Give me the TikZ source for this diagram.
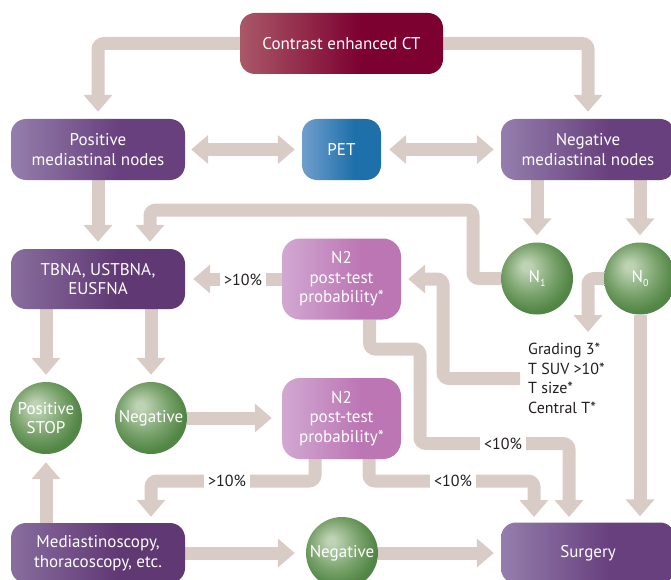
\documentclass[tikz,border=0pt]{standalone}
\usepackage{fontspec}
\setmainfont{PT Sans}
\usetikzlibrary{arrows.meta}
\definecolor{bandc}{RGB}{217,204,199}
\definecolor{labc}{RGB}{35,31,32}
\definecolor{ctl}{RGB}{170,88,104}
\definecolor{ctd}{RGB}{124,0,48}
\definecolor{petl}{RGB}{112,158,204}
\definecolor{petd}{RGB}{30,112,170}
\definecolor{pl}{RGB}{148,126,172}
\definecolor{pd}{RGB}{104,64,126}
\definecolor{tl}{RGB}{136,110,158}
\definecolor{td}{RGB}{96,56,116}
\definecolor{nl}{RGB}{210,168,210}
\definecolor{nd}{RGB}{188,118,180}
\definecolor{gl}{RGB}{190,210,180}
\definecolor{gm}{RGB}{118,160,104}
\definecolor{gd}{RGB}{82,134,70}
\pgfdeclarehorizontalshading{ctsh}{100bp}{color(0bp)=(ctl); color(25bp)=(ctl); color(55bp)=(ctd); color(100bp)=(ctd)}
\pgfdeclarehorizontalshading{petsh}{100bp}{color(0bp)=(petl); color(25bp)=(petl); color(58bp)=(petd); color(100bp)=(petd)}
\pgfdeclarehorizontalshading{psh}{100bp}{color(0bp)=(pl); color(25bp)=(pl); color(56bp)=(pd); color(100bp)=(pd)}
\pgfdeclarehorizontalshading{tsh}{100bp}{color(0bp)=(tl); color(25bp)=(tl); color(56bp)=(td); color(100bp)=(td)}
\pgfdeclarehorizontalshading{nsh}{100bp}{color(0bp)=(nl); color(25bp)=(nl); color(58bp)=(nd); color(100bp)=(nd)}
\pgfdeclareradialshading{greenball}{\pgfpoint{-8bp}{9bp}}{color(0bp)=(gl); color(3bp)=(gl); color(18bp)=(gm); color(27bp)=(gd); color(50bp)=(gd)}
\pgfdeclarelayer{bg}
\pgfsetlayers{bg,main}
\newcommand\sbs[1]{\raisebox{-3.5pt}{\fontsize{10}{10}\selectfont #1}}
\tikzset{
  boxbase/.style={rounded corners=15pt, text=white, align=center, inner sep=0pt, shade,
    font=\fontsize{17}{19.5}\selectfont},
  ctbox/.style={boxbase, shading=ctsh, minimum width=203pt, minimum height=61pt},
  petbox/.style={boxbase, shading=petsh, minimum width=79pt, minimum height=61pt},
  pbox/.style={boxbase, shading=psh, minimum width=174pt, minimum height=61pt},
  tbox/.style={boxbase, shading=tsh, minimum width=174pt, minimum height=60pt},
  n2box/.style={boxbase, rounded corners=18pt, shading=nsh, minimum width=119pt, minimum height=81pt},
  ball/.style={circle, shade, shading=greenball, minimum size=72pt, inner sep=0pt, text=white,
    align=center, font=\fontsize{17}{19.5}\selectfont},
  band/.style={draw=bandc, line width=13pt, rounded corners=6pt},
  arr/.style={band, -{Triangle[width=28pt,length=17pt]}},
  darr/.style={band, {Triangle[width=28pt,length=17pt]}-{Triangle[width=28pt,length=17pt]}},
  lab/.style={fill=white, text=labc, inner xsep=4pt, inner ysep=2pt, font=\fontsize{16}{19}\selectfont},
  txt/.style={text=labc, align=left, inner sep=0pt, font=\fontsize{16}{19.5}\selectfont},
}
\begin{document}
\begin{tikzpicture}[x=1pt,y=-1pt]
\useasboundingbox (0,0) rectangle (671,580);
\clip (0,0) rectangle (671,580);
% nodes
\node[ctbox] (ct) at (341.5,43.5) {Contrast enhanced CT};
\node[pbox] (pos) at (98,149.5) {Positive\\mediastinal nodes};
\node[petbox] (pet) at (341.5,149.5) {PET};
\node[pbox] (neg) at (588,149.5) {Negative\\mediastinal nodes};
\node[tbox] (tbna) at (98,279) {TBNA, USTBNA,\\EUSFNA};
\node[n2box] (n2a) at (341.5,279) {N2\\post-test\\probability*};
\node[ball] (n1) at (537,278.5) {N\sbs{1}};
\node[ball] (n0) at (640,278.5) {N\sbs{0}};
\node[txt, anchor=north west] (grad) at (528,343) {Grading 3*\\T SUV >10*\\T size*\\Central T*};
\node[ball] (stop) at (46,418) {Positive\\STOP};
\node[ball] (negl) at (151,418) {Negative};
\node[n2box] (n2b) at (341.5,418.5) {N2\\post-test\\probability*};
\node[tbox] (med) at (98,553) {Mediastinoscopy,\\thoracoscopy, etc.};
\node[ball] (negb) at (342,553) {Negative};
\node[pbox] (surg) at (588,553) {Surgery};
\coordinate (gtop) at (588,332);
\coordinate (gleft) at (520,378.5);
% connectors
\begin{pgfonlayer}{bg}
\draw[arr, shorten >=7pt] (ct.west) -| (pos.north);
\draw[arr, shorten >=7pt] (ct.east) -| (neg.north);
\draw[darr, shorten <=6pt, shorten >=7pt] (pos.east) -- (pet.west);
\draw[darr, shorten <=8pt, shorten >=7pt] (pet.east) -- (neg.west);
\draw[arr, shorten >=7pt] (pos.south) -- (tbna.north);
\draw[arr, shorten >=7pt] (n1.west) -| (473,210) -| ([xshift=52pt]tbna.north);
\draw[arr, shorten >=7pt] (neg.south -| n1.north) -- (n1.north);
\draw[arr, shorten >=7pt] (neg.south -| n0.north) -- (n0.north);
\draw[arr, shorten >=8pt] (n2a.west) -- (n2a.west -| tbna.east);
\draw[arr] (n0.west) -| (gtop);
\draw[arr, shorten >=7pt] (gleft) -| (443,279) -- (n2a.east);
\draw[arr, shorten >=6pt] ([xshift=28pt]n2a.south) |- (420,349) |- (569,443.5) -- (569,523);
\draw[arr, shorten >=10pt] (negl.east) -- (negl.east -| n2b.west);
\draw[arr, shorten >=7pt] (tbna.south -| stop.north) -- (stop.north);
\draw[arr, shorten >=7pt] (tbna.south -| negl.north) -- (negl.north);
\draw[arr, shorten >=6pt] ([xshift=-26.5pt]n2b.south) |- (151,481) -- (negl.center |- med.north);
\draw[arr, shorten >=6pt] ([xshift=27.5pt]n2b.south) |- (534,481) -- (534,523);
\draw[arr, shorten >=6pt] (n0.south) -- (n0.south |- surg.north);
\draw[arr, shorten >=8pt] (med.north -| stop.south) -- (stop.south);
\draw[arr, shorten >=11pt] (med.east) -- (negb.west);
\draw[arr, shorten >=7pt] (negb.east) -- (surg.west);
\end{pgfonlayer}
% labels on connectors
\node[lab] (l1) at (243,279.5) {>10\%};
\node[lab] (l2) at (503,443.5) {<10\%};
\node[lab] (l3) at (227,481) {>10\%};
\node[lab] (l4) at (453,481) {<10\%};
\end{tikzpicture}
\end{document}
